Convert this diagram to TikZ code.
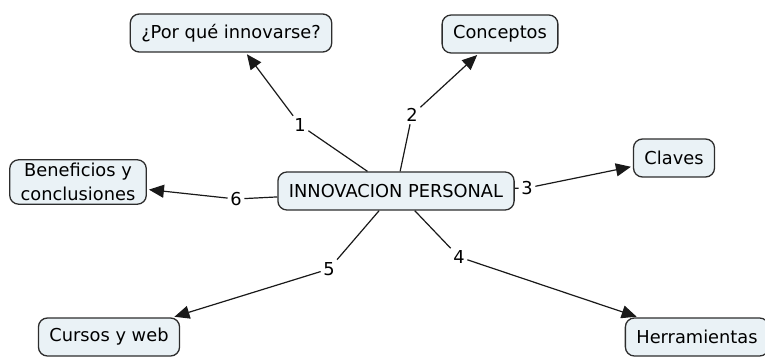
\documentclass[tikz,border=0pt]{standalone}
\usepackage{fontspec}
\setmainfont{DejaVu Sans}
\usetikzlibrary{arrows.meta}

\definecolor{boxfill}{RGB}{234,242,246}
\definecolor{boxline}{RGB}{45,45,45}

\tikzset{
  concept/.style={draw=boxline, fill=boxfill, line width=1.3pt, rounded corners=9pt,
    minimum height=38pt, inner xsep=11pt, align=center,
    font=\fontsize{17.8}{24}\selectfont},
  linklabel/.style={inner sep=2.5pt, font=\fontsize{17.8}{20}\selectfont},
  link/.style={line width=1.2pt, draw=black!90},
  linkarrow/.style={link, -{Triangle[length=15pt,width=13pt]}, shorten >=2pt},
}

\begin{document}
\begin{tikzpicture}[x=1pt,y=-1pt]
        \useasboundingbox (0,0) rectangle (765,358);

        % Concepts
        \node[concept] (innov) at (396,191) {INNOVACION PERSONAL};
        \node[concept] (porque) at (231,33) {¿Por qué innovarse?};
        \node[concept] (conceptos) at (500,34) {Conceptos};
        \node[concept] (claves) at (674,158) {Claves};
        \node[concept] (herram) at (697,337) {Herramientas};
        \node[concept] (cursos) at (109,337) {Cursos y web};
        \node[concept] (benef) at (78,182) {Beneficios y\\conclusiones};

        % Link labels
        \node[linklabel] (l1) at (300,125) {1};
        \node[linklabel] (l2) at (412,115) {2};
        \node[linklabel] (l3) at (527,188) {3};
        \node[linklabel] (l4) at (459,257) {4};
        \node[linklabel] (l5) at (329,269) {5};
        \node[linklabel] (l6) at (236,199) {6};

        % Connectors
        \foreach \i/\t in {1/porque, 2/conceptos, 3/claves, 4/herram, 5/cursos, 6/benef} {
            \draw[link] (innov) -- (l\i);
            \draw[linkarrow] (l\i) -- (\t);
        }
    \end{tikzpicture}
\end{document}
